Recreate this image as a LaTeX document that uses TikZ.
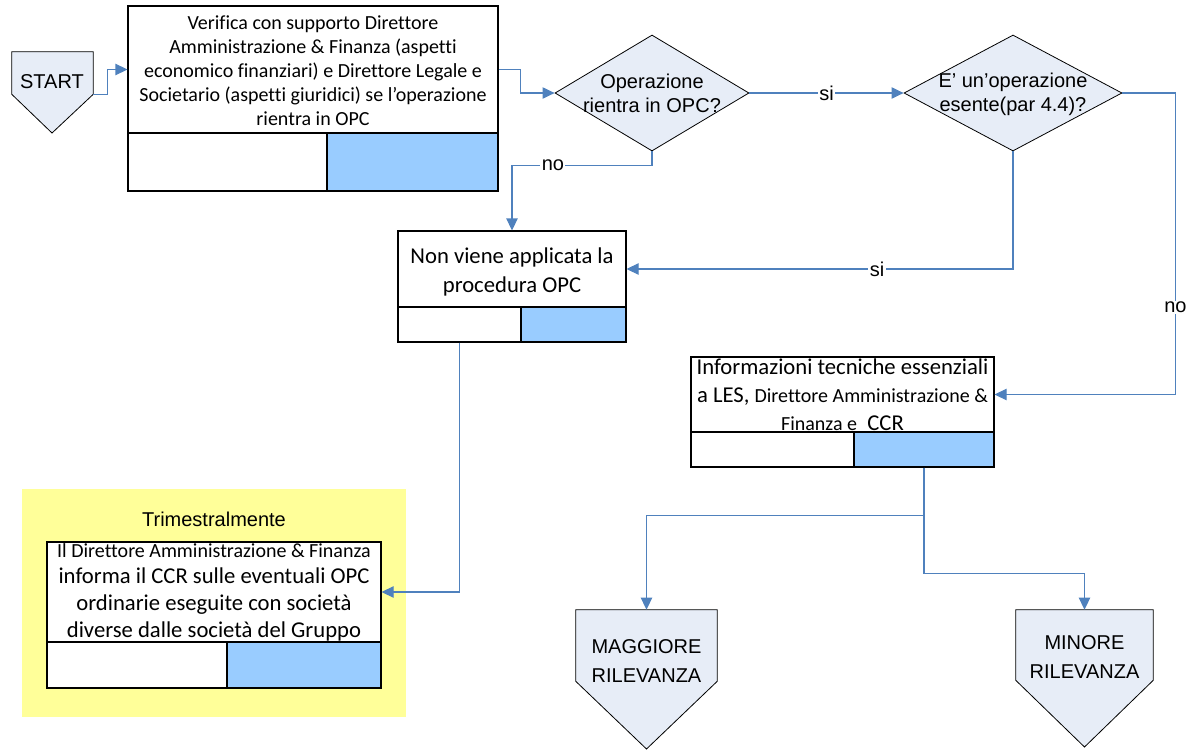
\documentclass[tikz,border=0pt]{standalone}
\usepackage{fontspec}
\setmainfont{Carlito}[Ligatures={NoCommon}]
\newfontfamily\arialf{Liberation Sans}
\usetikzlibrary{shapes.geometric,arrows.meta,fit}
\definecolor{connblue}{HTML}{4F81BD}
\definecolor{pale}{HTML}{E7EDF7}
\definecolor{cellblue}{HTML}{99CCFF}
\definecolor{yel}{HTML}{FFFF99}
\begin{document}
\begin{tikzpicture}[x=0.75pt,y=-0.75pt,
 box/.style={draw=black, line width=0.8pt, fill=white, inner sep=0pt},
 btxt/.style={inner sep=0pt, align=center},
 cellw/.style={draw=black, line width=0.8pt, fill=white, inner sep=0pt},
 cellb/.style={draw=black, line width=0.8pt, fill=cellblue, inner sep=0pt},
 frame/.style={inner sep=0pt},
 pent/.style={draw=black, line width=0.6pt, fill=pale},
 dia/.style={diamond, draw=black, line width=0.6pt, fill=pale, inner sep=0pt},
 atxt/.style={font=\arialf\fontsize{15}{18}\selectfont, align=center, inner sep=0pt},
 arrowc/.style={draw=connblue, line width=0.8pt, -{Triangle[length=9pt,width=8.5pt]}},
 lbl/.style={fill=white, inner sep=1pt, font=\arialf\fontsize{15}{17}\selectfont},
]
\useasboundingbox (0,0) rectangle (1186,750);

% yellow area
\node[frame, fill=yel, fit={(22,489)(406,717)}] (yellow) {};
\node[atxt] (trim) at (214,519) {Trimestralmente};

% START pentagon
\node[frame, fit={(12,52)(93,94)}] (start) {};
\coordinate (starttip) at (52,133);
\draw[pent] (start.north west) -- (start.north east) -- (start.south east) -- (starttip) -- (start.south west) -- cycle;
\node[atxt] (starttxt) at (52,82) {START};

% Box 1
\node[box, fit={(128,6)(498,133)}] (b1) {};
\node[btxt, font=\fontsize{15}{18}\selectfont] (b1t) at ([yshift=-0.75pt]b1.center) {Verifica con supporto Direttore\\Amministrazione \& Finanza (aspetti\\economico finanziari) e Direttore Legale e\\Societario (aspetti giuridici) se l’operazione\\rientra in OPC};
\node[cellw, fit={(128,133)(327,191)}] (b1w) {};
\node[cellb, fit={(327,133)(498,191)}] (b1b) {};

% Diamonds
\node[dia, minimum width=145.5pt, minimum height=87pt] (d1) at (652,93) {};
\node[atxt] (d1txt) at (652,93) {Operazione\\rientra in OPC?};
\node[dia, minimum width=163.5pt, minimum height=87pt] (d2) at (1013,93) {};
\node[atxt] (d2txt) at (1013,94) {E’ un’operazione\\esente(par 4.4)?};

% Box 2
\node[box, fit={(398,231)(626,307)}] (b2) {};
\node[btxt, font=\fontsize{17}{21.5}\selectfont] (b2t) at ([yshift=-2pt]b2.center) {Non viene applicata la\\procedura OPC};
\node[cellw, fit={(398,307)(521,342)}] (b2w) {};
\node[cellb, fit={(521,307)(626,342)}] (b2b) {};

% Box 3
\node[box, fit={(691,357)(994,432)}] (b3) {};
\node[btxt, font=\fontsize{17}{21}\selectfont] (b3t) at (b3.center) {Informazioni tecniche essenziali\\a LES, {\fontsize{15}{18}\selectfont Direttore Amministrazione \&}\\{\fontsize{15}{18}\selectfont Finanza e}\ \ CCR};
\node[cellw, fit={(691,432)(854,467)}] (b3w) {};
\node[cellb, fit={(854,432)(994,467)}] (b3b) {};

% Box 4
\node[box, fit={(47,542)(381,642)}] (b4) {};
\node[btxt, font=\fontsize{17}{20}\selectfont] (b4t) at (b4.center) {{\fontsize{15}{18}\selectfont Il Direttore Amministrazione \& Finanza}\\informa il CCR sulle eventuali OPC\\ordinarie eseguite con società\\diverse dalle società del Gruppo};
\node[cellw, fit={(47,642)(227,688)}] (b4w) {};
\node[cellb, fit={(227,642)(381,688)}] (b4b) {};

% End pentagons
\node[frame, fit={(576,610)(717,681)}] (mag) {};
\coordinate (magtip) at (646.5,749);
\draw[pent] (mag.north west) -- (mag.north east) -- (mag.south east) -- (magtip) -- (mag.south west) -- cycle;
\node[atxt, font=\arialf\fontsize{15}{22}\selectfont] (magtxt) at (646.5,661) {MAGGIORE\\RILEVANZA};

\node[frame, fit={(1016,610)(1153,680)}] (min) {};
\coordinate (mintip) at (1084.5,747);
\draw[pent] (min.north west) -- (min.north east) -- (min.south east) -- (mintip) -- (min.south west) -- cycle;
\node[atxt, font=\arialf\fontsize{15}{22}\selectfont] (mintxt) at (1084.5,657) {MINORE\\RILEVANZA};

% Connectors
\draw[arrowc] (start.south east) -- ++(14,0) |- (b1.west);
\draw[arrowc] (b1.east) -- ++(22,0) |- (d1.west);
\draw[arrowc] (d1.east) -- node[lbl] (si1) {si} (d2.west);
\draw[arrowc] (d1.south) -- ++(0,14) -| (b2.north) node[lbl, pos=0.354] (no1) {no};
\draw[arrowc] (d2.south) |- (b2.east) node[lbl, pos=0.676] (si2) {si};
\draw[arrowc] (d2.east) -- ++(53,0) |- (b3.east) node[lbl, pos=0.356] (no2) {no};
\draw[arrowc] (b2w.south) |- (b4.east);
\draw[arrowc] (b3b.south) -- ++(0,48) -| (mag.north);
\draw[arrowc] (b3b.south) -- ++(0,106) -| (min.north);
\end{tikzpicture}
\end{document}
